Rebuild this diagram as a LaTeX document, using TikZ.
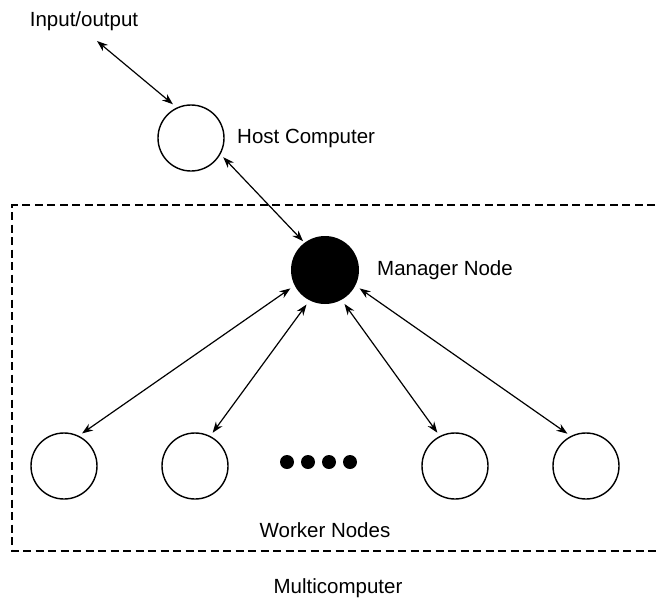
\documentclass[tikz,border=0pt]{standalone}
\usepackage{fontspec}
\setmainfont{Liberation Sans}
\usetikzlibrary{arrows.meta}
\begin{document}
\begin{tikzpicture}[x=1pt,y=-1pt,
  every node/.style={font=\fontsize{20.5}{24}\selectfont},
  pe/.style={circle,draw,line width=1.4pt,minimum size=66pt,inner sep=0pt},
  mgr/.style={circle,fill=black,minimum size=68pt,inner sep=0pt},
  dotnode/.style={circle,fill=black,minimum size=14pt,inner sep=0pt},
  link/.style={line width=1.2pt,{Stealth[length=11pt,width=8pt]}-{Stealth[length=11pt,width=8pt]}},
  lbl/.style={inner sep=0pt},
  box/.style={line width=1.3pt,dash pattern=on 8pt off 4.5pt}]
\useasboundingbox (0,0) rectangle (657,598);
\begin{scope}
\clip (0,0) rectangle (657,598);
\draw[box] (680,205) -- (12,205) -- (12,551) -- (680,551);
\end{scope}
\node[lbl] (io) at (84,21) {Input/output};
\coordinate (ioend) at (97,41);
\node[pe] (host) at (191,138) {};
\node[lbl,anchor=west] (hostl) at (237,138) {Host Computer};
\node[mgr] (m) at (325,270) {};
\node[lbl,anchor=west] (ml) at (377,270) {Manager Node};
\node[pe] (w1) at (64,466) {};
\node[pe] (w2) at (195,466) {};
\node[pe] (w3) at (455,466) {};
\node[pe] (w4) at (586,466) {};
\node[dotnode] (d1) at (287,462) {};
\node[dotnode] (d2) at (308,462) {};
\node[dotnode] (d3) at (329,462) {};
\node[dotnode] (d4) at (350,462) {};
\node[lbl] (wl) at (325,530) {Worker Nodes};
\node[lbl] (mc) at (338,588) {Multicomputer};
\draw[link,shorten >=5pt] (ioend) -- (host.115);
\draw[link,shorten <=4pt,shorten >=2pt] (host.331) -- (m.127);
\draw[link,shorten <=4pt,shorten >=5pt] (w1.64) -- (m.207);
\draw[link,shorten <=4pt,shorten >=5pt] (w2.63) -- (m.243);
\draw[link,shorten <=5pt,shorten >=4pt] (m.299) -- (w3.117);
\draw[link,shorten <=5pt,shorten >=4pt] (m.333) -- (w4.117);
\end{tikzpicture}
\end{document}
